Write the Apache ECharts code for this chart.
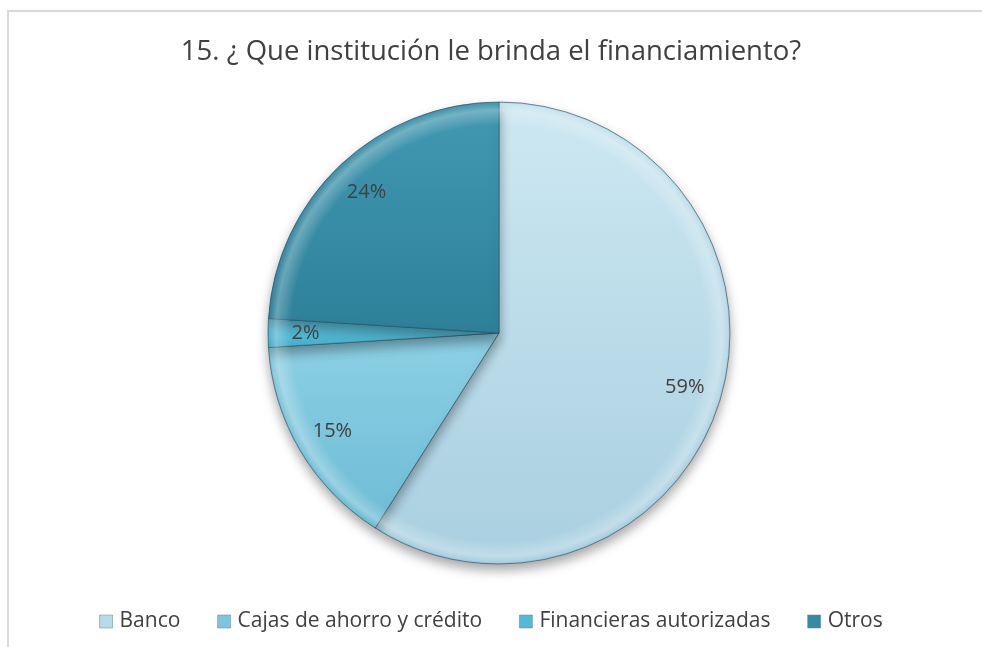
<!DOCTYPE html>
<html>
<head>
<meta charset="utf-8">
<script src="https://cdn.jsdelivr.net/npm/echarts@6/dist/echarts.min.js"></script>
<style>
  html, body { margin: 0; padding: 0; background: #fff; }
  #frame { position: absolute; left: 7px; top: 10px; width: 990px; height: 660px; border: 2px solid #d9d9d9; box-sizing: border-box; }
  #chart { position: absolute; left: 0; top: 0; width: 982px; height: 647px; }
</style>
</head>
<body>
<div id="frame"></div>
<div id="chart"></div>
<script>
const titleText = '15. ¿ Que institución le brinda el financiamiento?';
const categories = ['Banco', 'Cajas de ahorro y crédito', 'Financieras autorizadas', 'Otros'];
const values = [59, 15, 2, 24];

const CX = 499, CY = 333, R = 231;

const lg = (a, b) => new echarts.graphic.LinearGradient(0, 0, 0, 1, [
  { offset: 0, color: a }, { offset: 1, color: b }
]);
const sliceColors = [
  lg('#cde8f2', '#a9cfe0'),
  lg('#8dd0e4', '#6dbcd5'),
  lg('#63c6e0', '#45aecb'),
  lg('#4299b2', '#2e8099')
];
const legendColors = ['#b9dbe9', '#7cc6dd', '#52b9d6', '#358aa4'];

// soft bevel highlight near the rim, in page pixels
const rimGlow = new echarts.graphic.RadialGradient(CX, CY, R, [
  { offset: 0, color: 'rgba(255,255,255,0)' },
  { offset: 0.9, color: 'rgba(255,255,255,0)' },
  { offset: 0.965, color: 'rgba(255,255,255,0.28)' },
  { offset: 0.99, color: 'rgba(255,255,255,0.05)' },
  { offset: 1, color: 'rgba(0,40,60,0.15)' }
], true);

const chart = echarts.init(document.getElementById('chart'));

const pieData = categories.map((c, i) => ({
  name: c,
  value: values[i],
  itemStyle: { color: sliceColors[i] }
}));

chart.setOption({
  animation: false,
  color: legendColors,
  title: {
    text: titleText,
    left: 'center',
    top: 33,
    textStyle: { fontFamily: 'Open Sans', fontSize: 27.5, fontWeight: 'normal', color: '#404040' }
  },
  legend: {
    bottom: 10,
    left: 'center',
    itemWidth: 13,
    itemHeight: 13,
    itemGap: 37,
    icon: 'rect',
    textStyle: { fontFamily: 'Open Sans', fontSize: 21, color: '#404040', padding: [0, 0, 0, 2] },
    data: categories.map((c, i) => ({ name: c, itemStyle: { color: legendColors[i], borderColor: '#5a8796', borderWidth: 0.5 } }))
  },
  series: [
    {
      type: 'pie',
      center: [CX, CY],
      radius: [0, R],
      startAngle: 90,
      clockwise: true,
      label: { show: false },
      labelLine: { show: false },
      emphasis: { disabled: true },
      itemStyle: {
        borderColor: 'rgba(40,80,100,0.6)',
        borderWidth: 1,
        shadowBlur: 12,
        shadowOffsetY: 6,
        shadowColor: 'rgba(0,0,0,0.35)'
      },
      data: pieData
    },
    {
      type: 'pie',
      center: [CX, CY],
      radius: [150, R],
      startAngle: 90,
      clockwise: true,
      silent: true,
      legendHoverLink: false,
      emphasis: { disabled: true },
      itemStyle: { color: rimGlow, borderWidth: 0 },
      label: {
        show: true,
        position: 'inside',
        formatter: '{d}%',
        fontFamily: 'Open Sans',
        fontSize: 20,
        color: '#404040'
      },
      labelLine: { show: false },
      data: categories.map((c, i) => ({ name: c + ' ', value: values[i] }))
    }
  ]
});
</script>
</body>
</html>
